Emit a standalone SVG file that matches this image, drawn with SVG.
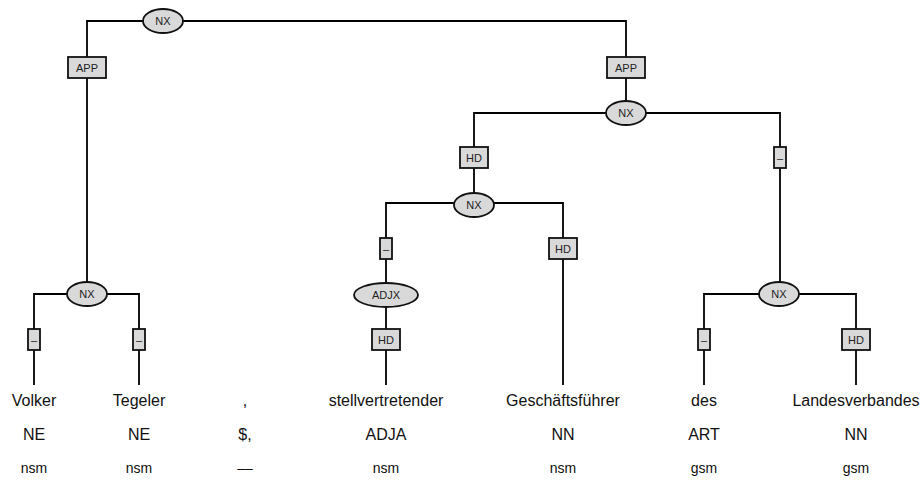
<svg xmlns="http://www.w3.org/2000/svg" width="923" height="482" viewBox="0 0 923 482">
<style>
.e{stroke:#000;stroke-width:1.8;fill:none}
.n{fill:#d9d9d9;stroke:#111;stroke-width:1.8}
.l{font-family:"Liberation Sans",Arial,sans-serif;font-size:11px;fill:#222;text-anchor:middle;dominant-baseline:central}
.w{font-family:"Liberation Sans",Arial,sans-serif;font-size:16px;fill:#111;text-anchor:middle}
.m{font-family:"Liberation Sans",Arial,sans-serif;font-size:14px;fill:#111;text-anchor:middle}
</style>
<rect width="923" height="482" fill="#fff"/>
<g id="connectors">
<polyline class="e" points="87,294 87,21 626,21 626,113"/>
<polyline class="e" points="34,385 34,294 139,294 139,385"/>
<polyline class="e" points="474,205 474,113 780,113 780,294"/>
<polyline class="e" points="386,385 386,203 563,203 563,385"/>
<polyline class="e" points="704,385 704,294 856,294 856,385"/>
</g>
<g id="nx_top"><ellipse class="n" cx="163" cy="21" rx="20" ry="12"/><text class="l" x="163" y="21">NX</text></g>
<g id="app_left"><rect class="n" x="68" y="57" width="38" height="21"/><text class="l" x="87" y="67.5">APP</text></g>
<g id="app_right"><rect class="n" x="607" y="57" width="38" height="21"/><text class="l" x="626" y="67.5">APP</text></g>
<g id="nx_left"><ellipse class="n" cx="87" cy="294" rx="20" ry="12"/><text class="l" x="87" y="294">NX</text></g>
<g id="dash_volker"><rect class="n" x="28" y="329" width="12" height="21"/><text class="l" x="34" y="339.5">–</text></g>
<g id="dash_tegeler"><rect class="n" x="133" y="329" width="12" height="21"/><text class="l" x="139" y="339.5">–</text></g>
<g id="nx_right"><ellipse class="n" cx="626" cy="113" rx="20" ry="12"/><text class="l" x="626" y="113">NX</text></g>
<g id="hd_mid"><rect class="n" x="460" y="147" width="28" height="21"/><text class="l" x="474" y="157.5">HD</text></g>
<g id="dash_right"><rect class="n" x="774" y="147" width="12" height="21"/><text class="l" x="780" y="157.5">–</text></g>
<g id="nx_mid"><ellipse class="n" cx="474" cy="205" rx="20" ry="12"/><text class="l" x="474" y="205">NX</text></g>
<g id="dash_adjx"><rect class="n" x="380" y="238" width="12" height="21"/><text class="l" x="386" y="248.5">–</text></g>
<g id="hd_gf"><rect class="n" x="549" y="238" width="28" height="21"/><text class="l" x="563" y="248.5">HD</text></g>
<g id="adjx"><ellipse class="n" cx="386" cy="295" rx="32" ry="12"/><text class="l" x="386" y="295">ADJX</text></g>
<g id="hd_adja"><rect class="n" x="372" y="329" width="28" height="21"/><text class="l" x="386" y="339.5">HD</text></g>
<g id="nx_gen"><ellipse class="n" cx="779" cy="294" rx="20" ry="12"/><text class="l" x="779" y="294">NX</text></g>
<g id="dash_des"><rect class="n" x="698" y="329" width="12" height="21"/><text class="l" x="704" y="339.5">–</text></g>
<g id="hd_lv"><rect class="n" x="842" y="329" width="28" height="21"/><text class="l" x="856" y="339.5">HD</text></g>
<g id="t_volker"><text class="w" x="34" y="406">Volker</text><text class="w" x="34" y="440">NE</text><text class="m" x="34" y="473">nsm</text></g>
<g id="t_tegeler"><text class="w" x="139" y="406">Tegeler</text><text class="w" x="139" y="440">NE</text><text class="m" x="139" y="473">nsm</text></g>
<g id="t_comma"><text class="w" x="245" y="406">,</text><text class="w" x="245" y="440">$,</text><text class="m" x="245" y="473">––</text></g>
<g id="t_stellv"><text class="w" x="386" y="406">stellvertretender</text><text class="w" x="386" y="440">ADJA</text><text class="m" x="386" y="473">nsm</text></g>
<g id="t_gf"><text class="w" x="563" y="406">Geschäftsführer</text><text class="w" x="563" y="440">NN</text><text class="m" x="563" y="473">nsm</text></g>
<g id="t_des"><text class="w" x="704" y="406">des</text><text class="w" x="704" y="440">ART</text><text class="m" x="704" y="473">gsm</text></g>
<g id="t_lv"><text class="w" x="856" y="406">Landesverbandes</text><text class="w" x="856" y="440">NN</text><text class="m" x="856" y="473">gsm</text></g>
</svg>
